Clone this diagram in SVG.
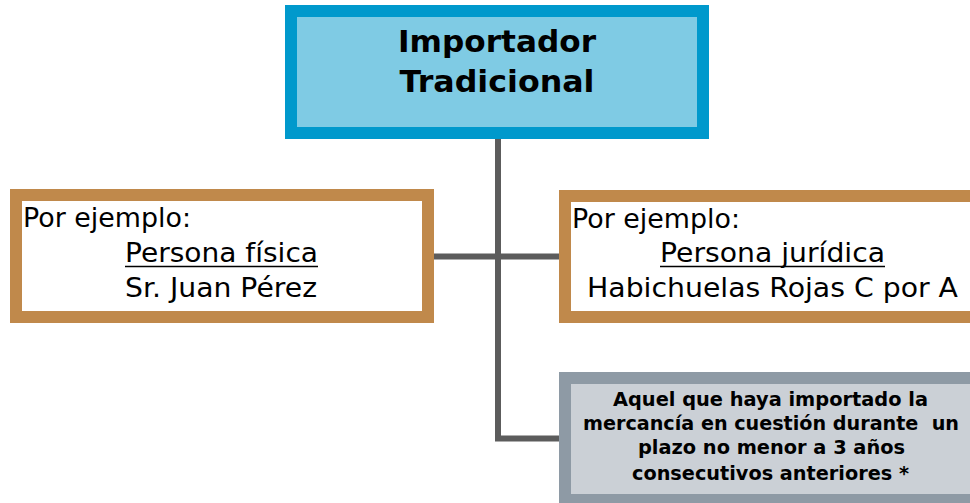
<svg xmlns="http://www.w3.org/2000/svg" width="970" height="503" viewBox="0 0 970 503">
<style>
.bg{fill:#ffffff}
.top{fill:#7fcbe4;stroke:#0099cc;stroke-width:12}
.ex{fill:#ffffff;stroke:#c0894b;stroke-width:12}
.note{fill:#cbd0d6;stroke:#8e9aa5;stroke-width:12}
.conn{stroke:#5c5c5c;stroke-width:6;fill:none}
.t{font-family:"DejaVu Sans","Liberation Sans",sans-serif;fill:#000}
.title{font-size:31px;font-weight:bold;text-anchor:middle}
.reg{font-size:26px}
.mid{text-anchor:middle}
.b{font-size:19px;font-weight:bold;text-anchor:middle}
.u{stroke:#000;stroke-width:1.5}
</style>
<rect class="bg" x="0" y="0" width="970" height="503"/>
<g id="connectors">
<polyline class="conn" points="498,139 498,438.5 559,438.5"/>
<line class="conn" x1="434" y1="256.5" x2="559" y2="256.5"/>
</g>
<g id="node-importador">
<rect class="top" x="291" y="11" width="412" height="122"/>
<text class="t title" x="497" y="52" textLength="198" lengthAdjust="spacingAndGlyphs">Importador</text>
<text class="t title" x="497" y="92" textLength="195" lengthAdjust="spacingAndGlyphs">Tradicional</text>
</g>
<g id="node-fisica">
<rect class="ex" x="16" y="195" width="412" height="122"/>
<text class="t reg" x="23" y="227" textLength="168" lengthAdjust="spacingAndGlyphs">Por ejemplo:</text>
<text class="t reg mid" x="221.5" y="262" textLength="193" lengthAdjust="spacingAndGlyphs">Persona física</text>
<line class="u" x1="125" y1="266.5" x2="318" y2="266.5"/>
<text class="t reg mid" x="221" y="297" textLength="192" lengthAdjust="spacingAndGlyphs">Sr. Juan Pérez</text>
</g>
<g id="node-juridica">
<rect class="ex" x="565" y="196" width="412" height="121"/>
<text class="t reg" x="572" y="228" textLength="168" lengthAdjust="spacingAndGlyphs">Por ejemplo:</text>
<text class="t reg mid" x="772.5" y="262" textLength="225" lengthAdjust="spacingAndGlyphs">Persona jurídica</text>
<line class="u" x1="660" y1="266.5" x2="885" y2="266.5"/>
<text class="t reg mid" x="772.5" y="297" textLength="371" lengthAdjust="spacingAndGlyphs">Habichuelas Rojas C por A</text>
</g>
<g id="node-nota">
<rect class="note" x="565" y="378" width="412" height="122"/>
<text class="t b" x="770.5" y="406" textLength="315" lengthAdjust="spacingAndGlyphs">Aquel que haya importado la</text>
<text class="t b" x="771" y="430" textLength="376" lengthAdjust="spacingAndGlyphs" xml:space="preserve">mercancía en cuestión durante  un</text>
<text class="t b" x="771.5" y="454" textLength="267" lengthAdjust="spacingAndGlyphs">plazo no menor a 3 años</text>
<text class="t b" x="770.5" y="480" textLength="277" lengthAdjust="spacingAndGlyphs">consecutivos anteriores *</text>
</g>
</svg>
